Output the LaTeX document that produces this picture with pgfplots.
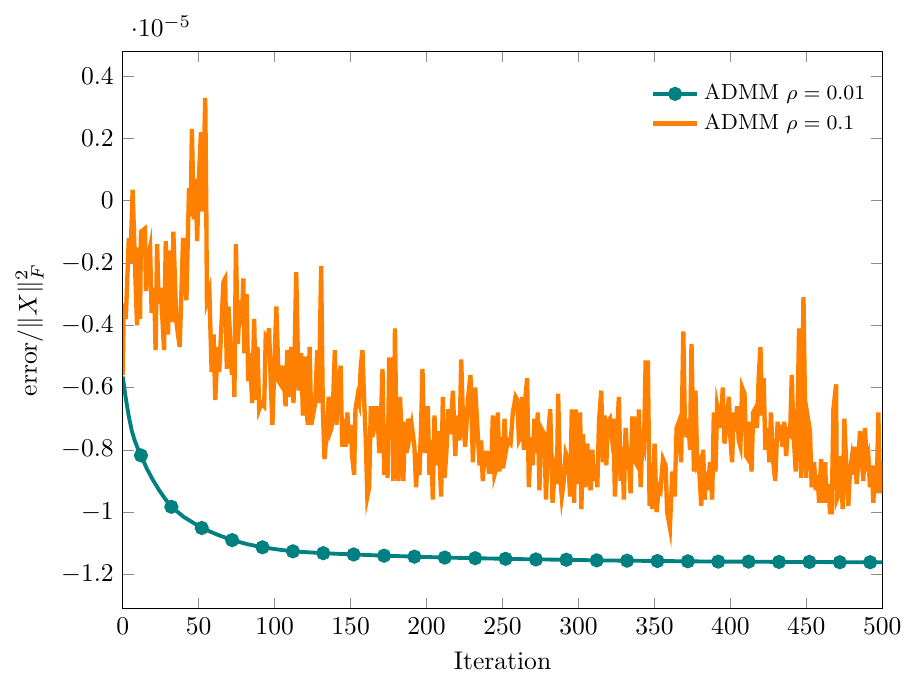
\documentclass[border=0pt]{standalone}
\usepackage{pgfplots}
\pgfplotsset{compat=1.18}
\begin{document}
\begin{tikzpicture}
\begin{axis}[
  scale only axis,
  width=297pt, height=218pt,
  xmin=0, xmax=500,
  ymin=-1.31, ymax=0.48,
  xtick={0,50,...,500},
  ytick={-1.2,-1,-0.8,-0.6,-0.4,-0.2,0,0.2,0.4},
  scaled y ticks=manual:{$\cdot 10^{-5}$}{\pgfmathparse{#1}},
  every y tick scale label/.style={at={(rel axis cs:0,1)}, anchor=south west, yshift=4.5pt, xshift=2pt, inner sep=1pt},
  tick style={black!45},
  xlabel={Iteration},
  ylabel={error$/\|X\|_F^2$},
  legend style={draw=none, fill=none, at={(0.995,0.96)}, anchor=north east, font=\fontsize{8.5}{10.2}\selectfont},
  legend cell align=left,
  clip=true,
]
\addplot[color=teal, line width=1.5pt, mark=*, mark size=2pt,
  mark indices={7,12,14,16,18,20,21,22,23,24,25,26,27,28,29,30,31,32,33,34,35,36,37,38,39},
  legend image code/.code={\draw[teal, line width=1.5pt, mark=*, mark size=2pt, mark indices={2}] plot coordinates {(0cm,0cm) (0.3cm,0cm) (0.6cm,0cm)};}]
coordinates {
(0,-0.565) (2,-0.635) (4,-0.693) (6,-0.74) (8,-0.772) (10,-0.797) (12,-0.818)
(16,-0.862) (20,-0.898) (24,-0.930) (28,-0.958) (32,-0.983)
(40,-1.015) (52,-1.051) (62,-1.072) (72,-1.090) (82,-1.103) (92,-1.113) (102,-1.120)
(112,-1.126) (132,-1.132) (152,-1.136) (172,-1.140) (192,-1.143) (212,-1.146) (232,-1.148)
(252,-1.150) (272,-1.152) (292,-1.153) (312,-1.155) (332,-1.156) (352,-1.157) (372,-1.158)
(392,-1.159) (412,-1.159) (432,-1.160) (452,-1.160) (472,-1.161) (492,-1.161) (500,-1.161)
};
\addlegendentry{ADMM $\rho=0.01$}
\addplot[color=orange, line width=1.7pt] coordinates {
(0,-0.56) (0.7,-0.33) (2,-0.38) (4,-0.12) (5,-0.20) (6.5,0.035) (8,-0.20) (9.4,-0.40) (10,-0.15) (11.4,-0.38)
(12,-0.10) (14.6,-0.09) (15.3,-0.29) (16.8,-0.18) (18,-0.15) (19,-0.36) (20.7,-0.28) (21.6,-0.48) (22.6,-0.14) (23.7,-0.33)
(25,-0.28) (27.2,-0.48) (28.3,-0.13) (29.8,-0.43) (30.9,-0.16) (32.4,-0.39) (33.3,-0.10) (34.2,-0.23) (35.3,-0.39) (37.5,-0.47)
(39.7,-0.12) (41.9,-0.32) (43.6,0.04) (44.7,-0.05) (45.5,0.23) (46.8,-0.06) (47.9,0.07) (49,-0.13) (50,0.06) (51.5,0.22)
(52.6,-0.035) (54.3,0.33) (55,-0.03) (55.4,-0.32) (57,-0.29) (58.5,-0.55) (59.8,-0.43) (60.9,-0.64) (62.4,-0.47) (63.5,-0.55)
(66.3,-0.26) (67.4,-0.25) (68.5,-0.54) (69.6,-0.34) (70.7,-0.44) (71.8,-0.56) (72.9,-0.47) (73.5,-0.63) (74.5,-0.14) (75.7,-0.46)
(77.2,-0.32) (78.3,-0.40) (79.4,-0.25) (80,-0.49) (81.5,-0.30) (82.6,-0.58) (83.7,-0.49) (85.2,-0.65) (86.5,-0.38) (87.6,-0.64)
(88.7,-0.47) (89.8,-0.67) (91.3,-0.65) (93.1,-0.66) (94.1,-0.44) (95.2,-0.45) (96.3,-0.41) (97.4,-0.58) (98.5,-0.72) (99.6,-0.56)
(101.1,-0.34) (102.6,-0.58) (103.9,-0.59) (105.4,-0.53) (107.2,-0.66) (108.3,-0.48) (109.8,-0.63) (110.9,-0.47) (112.4,-0.65) (114.2,-0.23)
(115.7,-0.61) (117.5,-0.49) (118.6,-0.69) (119.7,-0.50) (120.8,-0.67) (121.9,-0.72) (123,-0.47) (124.1,-0.72) (125.2,-0.69) (126.7,-0.65)
(128,-0.48) (129.1,-0.65) (130.6,-0.21) (131.7,-0.67) (132.8,-0.83) (134.3,-0.74) (135.6,-0.63) (136.7,-0.74)
(137.4,-0.73) (138.5,-0.64) (139.6,-0.48) (140.7,-0.72) (141.8,-0.59) (143.5,-0.53) (144.4,-0.79) (145.7,-0.70) (146.8,-0.79) (147.9,-0.68)
(148.8,-0.78) (150.1,-0.72) (151,-0.82) (152.3,-0.88) (153.2,-0.67) (154.5,-0.63) (155.6,-0.65) (156.7,-0.53) (157.8,-0.48) (158.9,-0.64)
(160,-0.77) (161,-0.95) (162.2,-0.92) (163.3,-0.66) (164.4,-0.76) (165.5,-0.66) (166.6,-0.70) (167.7,-0.66) (168.8,-0.81) (169.9,-0.71)
(171,-0.54) (172.1,-0.88) (173.2,-0.72) (174.3,-0.89) (175.4,-0.51) (177,-0.51) (178.1,-0.90) (179.2,-0.41) (180.3,-0.80) (181.4,-0.90)
(182.5,-0.63) (183.6,-0.74) (184.7,-0.90) (185.8,-0.71) (186.9,-0.81) (188,-0.70) (189.1,-0.75) (190.2,-0.72) (192,-0.79) (193.1,-0.92)
(194.2,-0.81) (195.3,-0.88) (196.4,-0.72) (197.3,-0.54) (198.6,-0.81) (199.7,-0.72) (200.8,-0.66) (201.9,-0.88) (203,-0.77) (204.1,-0.96)
(205.2,-0.69) (206.3,-0.85)
(207.5,-0.74) (208.5,-0.83) (209.6,-0.95) (210.7,-0.63) (211.8,-0.89) (212.9,-0.82) (214.4,-0.67) (215.8,-0.75) (217.3,-0.61) (218.9,-0.82)
(220,-0.69) (221.7,-0.77) (222.8,-0.51) (223.9,-0.69) (225.4,-0.79) (227.2,-0.64) (228.9,-0.56) (230.5,-0.84) (232,-0.60) (233.8,-0.76)
(234.9,-0.85) (235.9,-0.77) (237,-0.90) (238.1,-0.81) (239.9,-0.81) (241,-0.87) (242.5,-0.87) (243.6,-0.69) (244.7,-0.88) (245.8,-0.86)
(246.9,-0.68) (248,-0.87) (249.1,-0.76) (250.2,-0.86) (251.3,-0.70) (252.4,-0.80) (253.5,-0.77) (255.3,-0.78) (256.8,-0.68) (258.6,-0.63)
(259.7,-0.64) (260.8,-0.77) (261.8,-0.76) (262.9,-0.63) (264,-0.80) (265.1,-0.63) (266.2,-0.57) (267.3,-0.92) (268.8,-0.76) (269.9,-0.85)
(271,-0.70) (272.1,-0.81) (273.2,-0.68) (274.3,-0.93) (275.4,-0.73)
(277.5,-0.75) (278.6,-0.96) (280.1,-0.75) (281.4,-0.67) (282.9,-0.97) (284.4,-0.87) (285.8,-0.91) (286.6,-0.62) (287.9,-0.88) (289,-0.95)
(290.1,-0.91) (291.6,-0.81) (293.2,-0.83) (294.5,-0.95) (295.6,-0.67) (297.1,-0.97) (298.2,-0.67) (299.3,-0.91) (301.1,-0.68) (301.9,-0.99)
(303,-0.75) (304.3,-0.92) (305.8,-0.78) (306.9,-0.89) (308,-0.93) (309.1,-0.80) (310.2,-0.90) (311.3,-0.85) (312.4,-0.92) (313.5,-0.71)
(315,-0.61) (316.1,-0.84) (317.2,-0.69) (318.3,-0.85) (319.4,-0.71) (320.7,-0.70) (321.8,-0.75) (322.9,-0.70) (324,-0.95) (325.5,-0.74)
(326.6,-0.63) (327.7,-0.90) (328.8,-0.79) (329.9,-0.96) (331,-0.73) (332.1,-0.82) (333.2,-0.83) (334.3,-0.94) (335.4,-0.70) (336.5,-0.70)
(337.6,-0.84) (338.7,-0.85) (339.8,-0.67) (340.9,-0.92) (342,-0.77) (343.1,-0.79) (344.2,-0.52) (345.7,-0.52) (346.8,-0.98)
(347.5,-0.89) (348.6,-0.99) (350.1,-0.78) (351.4,-1.00) (352.9,-0.92) (354,-0.93) (355.6,-0.83) (357.3,-0.85) (358.4,-1.00) (360.2,-1.05)
(361.7,-0.87) (363.3,-0.95) (364.6,-0.73) (366.1,-0.71) (367.6,-0.84) (369,-0.42) (370,-0.70) (371.2,-0.76) (372.3,-0.70) (373.4,-0.80)
(374.4,-0.46) (376,-0.87) (377,-0.61) (378.2,-0.85) (379.2,-0.84) (380.8,-0.98) (382.1,-0.80) (383,-0.96) (384.3,-0.87) (385.4,-0.93)
(386.5,-0.84) (388,-0.96) (389.1,-0.68) (390.2,-0.87) (391.3,-0.66) (392.4,-0.69) (393.5,-0.73) (395,-0.60) (396.1,-0.78) (397.4,-0.73)
(399,-0.63) (400,-0.76) (401.1,-0.84) (402.2,-0.68) (403.3,-0.74) (404.4,-0.66) (405.5,-0.77) (406.6,-0.79) (407.7,-0.60) (409.3,-0.62)
(410.4,-0.82) (411.7,-0.83) (412.8,-0.71) (413.9,-0.87) (415,-0.68) (416.1,-0.67)
(417.5,-0.73) (418.6,-0.57) (419.8,-0.47) (420.8,-0.69) (421.9,-0.57) (423,-0.80) (424.6,-0.73) (425.6,-0.84) (426.7,-0.68) (428,-0.83)
(429.5,-0.90) (431.1,-0.71) (432.2,-0.77) (433.2,-0.72) (434.3,-0.79) (435.4,-0.71) (436.7,-0.82) (437.8,-0.74) (439.3,-0.75) (440.4,-0.56)
(441.5,-0.74) (443,-0.87) (444.1,-0.72) (445.2,-0.41) (446.5,-0.89) (448.1,-0.31) (449.8,-0.89) (451.4,-0.71) (452.4,-0.74) (453.5,-0.92)
(455.1,-0.84) (456.2,-0.93) (457.3,-0.88) (458.4,-0.97) (459.7,-0.83) (460.8,-0.97) (462.3,-0.84) (463.4,-0.97) (464.5,-0.91) (465.6,-1.00)
(466.7,-1.00) (467.8,-0.67) (469.6,-0.59) (470,-0.96) (471.5,-0.94) (472.6,-0.82) (473.9,-0.99) (475,-0.70) (476.1,-0.83) (477.6,-0.98)
(478.7,-0.87) (479.8,-0.83) (480.9,-0.88) (482,-0.79) (483.1,-0.91) (484.2,-0.84) (485.3,-0.74) (486.4,-0.82) (487.5,-0.90) (488.6,-0.73)
(489.7,-0.84) (490.8,-0.82) (491.9,-0.92) (493,-0.85) (494.1,-0.97) (495.2,-0.85) (496.3,-0.94) (497.4,-0.68) (498.5,-0.94) (499.6,-0.84)
(500,-0.93)
};
\addlegendentry{ADMM $\rho=0.1$}
\end{axis}
\path ([yshift=20pt]current axis.north west);
\path ([xshift=-48pt]current axis.west);
\end{tikzpicture}
\end{document}
